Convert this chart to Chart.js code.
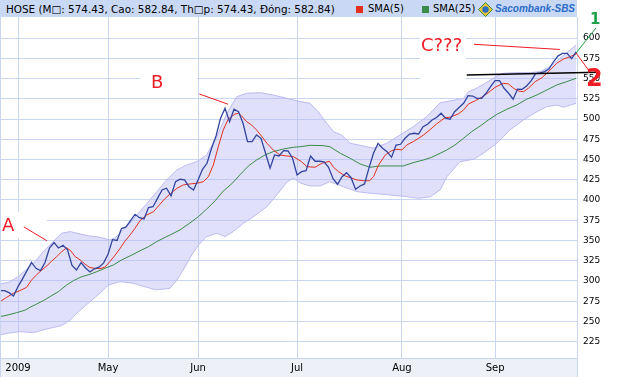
<!DOCTYPE html>
<html><head><meta charset="utf-8">
<script src="https://cdn.jsdelivr.net/npm/chart.js@4/dist/chart.umd.min.js"></script>
<style>
html,body{margin:0;padding:0;background:#fff;}
#wrap{position:relative;width:617px;height:377px;overflow:hidden;font-family:'DejaVu Sans',sans-serif;}
#c{position:absolute;left:0;top:0;}
#hdr{position:absolute;left:0;top:0;width:577px;height:17px;background:#c9d9f5;font-size:10px;color:#000;white-space:nowrap;}
#hdr span{position:absolute;top:3px;line-height:12px;}
.sq{position:absolute;top:6px;width:7px;height:7px;}
.ann{position:absolute;color:#ee1c25;font-size:18px;line-height:18px;white-space:nowrap;}
</style></head>
<body><div id="wrap">
<canvas id="c" width="617" height="377"></canvas>
<div id="hdr">
  <span style="left:6px;font-size:10.4px">HOSE (M&#9633;: 574.43, Cao: 582.84, Th&#9633;p: 574.43, Đóng: 582.84)</span>
  <div class="sq" style="left:356px;background:#e2301c"></div>
  <span style="left:368px">SMA(5)</span>
  <div class="sq" style="left:422px;background:#3a8a48"></div>
  <span style="left:433px">SMA(25)</span>
  <svg style="position:absolute;left:478px;top:2px" width="15" height="15"><polygon points="7.5,0.5 14.5,7.5 7.5,14.5 0.5,7.5" fill="#e6c53a" stroke="#3f8a3f"/><circle cx="7.5" cy="7.5" r="3.2" fill="#2f6fc0"/></svg>
  <span style="left:495px;font-family:'Liberation Sans',sans-serif;font-weight:bold;font-style:italic;color:#2a6cc7">Sacombank-SBS</span>
</div>
<div class="ann" style="left:2px;top:216px">A</div>
<div class="ann" style="left:151px;top:73px">B</div>
<div class="ann" style="left:421px;top:36px">C???</div>
<div class="ann" style="left:590px;top:12px;color:#1ea34a;font-weight:bold;font-size:15px;line-height:15px">1</div>
<div class="ann" style="left:586px;top:66px;font-weight:bold;font-size:24px;line-height:24px">2</div>
</div>
<script>
// ---- data (trading-day index, 0 = first trading day of April 2009) ----
const FIRST_DAY = -4;
const closeVals = [
 288,288,285.5,281.4,293,302.5,312.7,322.8,315.6,312.7,
 322.8,340.7,347.5,340.7,344.1,338.3,319.1,313.5,322.6,316,
 311,315,317,322,333,351,350,364.6,366.7,374.5,
 382.3,378.1,376.5,390.7,391.7,402,412.4,414.5,405,422.6,
 425.6,424.7,416.4,412.4,424.7,437.9,445.3,463.9,479,500.9,
 513.2,496.7,512,509,494.7,472,472,480.3,476.2,457.7,
 439.2,455.6,454.3,460.9,460.5,451.5,430.9,435,436.2,454.3,
 447.8,447.8,447,440.4,426.3,419.4,428.8,433.7,427.5,413.2,
 417.3,419.8,440,458,470,463.9,459.7,452.7,467.9,468.8,
 476.2,481.5,482.4,481.5,490.5,493.5,498.8,501.9,507.1,500.9,
 499.7,509,514.2,519.4,528.8,528.4,525.6,525.6,531.8,540,
 547.3,547.3,538,531.8,524.4,537,536.7,540.8,547,556,
 557,558.5,562,571,578,581,581,574.43,582.84];

const sma5Days = [-4,-2.5,-1,0.4,1.9,3,4.2,5.3,6.4,7.5,8.6,9.7,10.8,11.7,12.7,13.8,14.9,16,17.1,18.2,19.3,20.4,21.6,22.7,23.8,24.9,26,27.1,28.6,30.1,31.2,32.7,33.8,35.3,36.7,38.2,39.7,41.2,42.3,43.4,44.5,45.6,46.7,48.2,49,49.7,50.8,51.9,53,54.2,55.3,56.7,58.2,59.7,61.2,63,64.2,66,67.5,69.2,70.1,71.2,72.7,74.2,75.3,76.7,78.1,79,80.1,81.6,83,84.2,85.3,86.4,87.8,89,90.1,91.6,93,94.9,96,97.8,99,100.1,101.6,103,104.5,106,107.8,109,110.1,111.2,112.3,113.4,114.9,116.4,117.5,118.6,119.7,121.2,122.7,124];
const sma5Vals = [274.4,279.8,284.8,288,292,301,308,313.5,318.5,324.7,330,336,341,337.4,330,326,320.6,316.4,315.6,315.2,317,323.8,332,340.3,349.4,356.8,365,374.4,381.5,385.5,392.6,402,407.4,414.4,418.5,419.8,420.6,422.6,428.8,443.2,465.8,486.5,499.7,506.2,507,503.7,496.7,492.6,486.5,478.2,470,461.8,455.6,454.3,453.5,447.3,441.1,440.4,445.3,447.8,440.4,435,429.6,426.8,424.7,423.8,423.8,428.8,443.2,455.6,460.9,462.6,461.8,468,472,476.2,480.3,487,493.9,501.7,502.2,506.2,511.2,518.6,522.6,526.8,532.5,539.2,544.1,543.3,538,534.6,533.7,538,546.1,551,556.5,562.6,568.8,574.1,577,580.3];

const sma25Days = [-4,-2.2,-0.3,1.6,2.7,4.2,5.6,7.1,9,10.8,12.3,14.2,16,17.5,19.3,21.2,23,25.3,27.1,29,30.8,32.7,33.8,36,38.2,40.1,41.9,43.8,45.6,47.5,49.3,51.2,53,54.9,56.7,59,61.2,62.7,64.9,67.8,69.3,71.6,73.8,76,78.2,80.4,82.7,85.6,87.8,90.1,91.9,93.8,95.3,97.1,99,100.8,102.7,104.5,106.4,108.6,110.8,113,115.3,117.5,119.7,121.9,124];
const sma25Vals = [255.9,258,260.8,264,267.5,271.6,275.6,280.6,286.8,295,300.3,305.3,308.2,311.4,315.6,319.7,325.9,332,337.2,342.3,348.5,353.9,356.8,363,371.6,379.5,388.6,399,411,420,431,442,449.4,455.6,459.7,463,465.1,465.8,467.5,467.1,465.8,457.7,451.5,444.5,440.4,442,442,442,446.1,449.4,452.7,457.7,461.8,467.9,476.2,484.4,491.4,498.8,505.8,512,517.3,524.4,529.7,535.9,542,546.1,550.3];

const upperDays = [-4,-2.2,0.1,1.9,3.8,5.6,7.8,9.7,11.6,13.8,16,18.2,20.4,21.6,24.2,26.4,29.3,33,35.3,37.5,39.7,41.9,44.2,46.4,48.6,50.8,53.8,56.7,59.7,62.7,64.9,66.7,68.6,70.1,71.9,73.8,76.7,79,81.9,84.9,87.8,90.8,93.8,96,99,100.1,101.9,103.8,105.6,107.8,110.8,113.8,116,118.2,120.4,122.7,124];
const upperVals = [296.3,297.9,305.3,314.4,323.8,336.1,348.5,358.9,360.9,358,355.5,353.9,350.6,353.5,367,381.5,400,424.7,437,443.2,447.3,455.6,478.2,507,527.6,531.8,532.5,529.7,525.6,521.5,519.4,509,494.7,484.4,480.3,470,466.7,463.9,470,480.3,490.5,502.9,520,522.3,525.6,533.7,538,544.1,550.3,556.5,557.3,557.3,558.5,564.7,575,585.3,591.4];

const lowerDays = [-4,-2.2,0.4,3.4,6.4,9.7,11.6,13.4,15.6,18.2,20.1,22.7,25.6,28.6,30.8,33.8,35.3,36.7,38.6,40.1,41.9,44.2,46,47.8,50.1,52.3,55.3,57.5,59.7,61.2,62.7,64.9,67.1,69.3,72.3,75.3,78.2,82.7,86.4,89,91.6,93.8,95.3,98.2,101.2,103.4,106.4,109.3,112.3,115.3,117.5,119.7,121.2,124];
const lowerVals = [233.3,235.4,237.4,236.1,240.7,244.8,251.8,262,272.4,284.8,295,299.1,297.1,292.1,289,290.9,301.2,313.5,332,344.4,354.7,358.9,354.7,360.9,371.2,379.4,391.7,406.2,422,427,421,417.3,417.3,422.6,416.4,410.3,408.3,406.2,404.1,402.1,404,412.4,428.8,447.3,450.3,457.7,470,486.5,498.8,509,515.2,517.3,514.5,519.4];

const monthDays = [0,20,40,62,85.3,106];
const monthLabels = ['2009','May','Jun','Jul','Aug','Sep'];
const yTicks = [225,250,275,300,325,350,375,400,425,450,475,500,525,550,575,600];

// hand-drawn annotations (data units: day, value)
const annotLines = [
  {from:[1.3,366.7], to:[6.4,349.7], color:'#ee1c25', w:1},
  {from:[40.3,530.9], to:[46.7,518.2], color:'#ee1c25', w:1},
  {from:[101.3,592.3], to:[120.4,585.9], color:'#ee1c25', w:1},
  {from:[99.7,554.4], to:[128.9,557.7], color:'#000000', w:1.4},
  {from:[124,581.5], to:[128.4,612.4], color:'#1ea34a', w:1},
  {from:[124,581.5], to:[126.9,559.3], color:'#ee1c25', w:1}
];
const labelBoxes = [[0,212,47,26],[140,66,57,26],[420,28,46,54]];

const pts = (xs, ys) => ys.map((v,k)=>({x:xs[k], y:v}));
const closePts = closeVals.map((v,k)=>({x:k+FIRST_DAY, y:v}));

const GRID = '#c9d6f2';
const bgPlugin = {
  id:'bg',
  beforeDraw(chart){
    const c = chart.ctx, a = chart.chartArea;
    c.save();
    c.fillStyle='#fff'; c.fillRect(0,0,chart.width,chart.height);
    c.fillStyle='#eef0f8'; c.fillRect(a.left, a.bottom, a.right-a.left, chart.height-a.bottom);
    c.restore();
  },
  beforeDatasetsDraw(chart){
    const c = chart.ctx;
    c.save(); c.fillStyle='#fff';
    labelBoxes.forEach(b=>c.fillRect(b[0],b[1],b[2],b[3]));
    c.restore();
  },
  afterDraw(chart){
    const c = chart.ctx, a = chart.chartArea, xs = chart.scales.x, ys = chart.scales.y;
    c.save();
    c.strokeStyle = GRID; c.lineWidth = 1;
    c.beginPath(); c.moveTo(a.right+0.5, a.top); c.lineTo(a.right+0.5, chart.height); c.stroke();
    c.beginPath(); c.moveTo(0.5, a.top); c.lineTo(0.5, chart.height); c.stroke();
    annotLines.forEach(l=>{
      c.strokeStyle = l.color; c.lineWidth = l.w;
      c.beginPath();
      c.moveTo(xs.getPixelForValue(l.from[0]), ys.getPixelForValue(l.from[1]));
      c.lineTo(xs.getPixelForValue(l.to[0]), ys.getPixelForValue(l.to[1]));
      c.stroke();
    });
    c.restore();
  }
};

Chart.defaults.font.family = "'DejaVu Sans', sans-serif";
new Chart(document.getElementById('c'), {
  type:'line',
  data:{ datasets:[
    {label:'Upper', data:pts(upperDays, upperVals), borderColor:'#bcbcf0', borderWidth:1, pointRadius:0, fill:false, order:10},
    {label:'Lower', data:pts(lowerDays, lowerVals), borderColor:'#bcbcf0', borderWidth:1, pointRadius:0, fill:'-1', backgroundColor:'rgba(180,180,246,0.42)', order:9},
    {label:'SMA(25)', data:pts(sma25Days, sma25Vals), borderColor:'#3a8a48', borderWidth:1, pointRadius:0, order:3},
    {label:'SMA(5)', data:pts(sma5Days, sma5Vals), borderColor:'#e2301c', borderWidth:1, pointRadius:0, order:2},
    {label:'HOSE', data:closePts, borderColor:'#33449e', borderWidth:1.3, pointRadius:0, order:1}
  ]},
  options:{
    responsive:false, animation:false, events:[],
    layout:{padding:{top:17,left:0,right:0,bottom:0}},
    plugins:{legend:{display:false}, tooltip:{enabled:false}},
    scales:{
      x:{ type:'linear', min:-4, max:124.2,
        afterBuildTicks(s){ s.ticks = monthDays.map(v=>({value:v})); },
        afterFit(s){ s.height = 19; },
        grid:{color:GRID, drawTicks:false},
        border:{color:GRID},
        ticks:{ padding:4, color:'#000', font:{size:10}, maxRotation:0, autoSkip:false,
          callback:(v,i)=>monthLabels[i] }
      },
      y:{ position:'right', min:204.8, max:626,
        afterBuildTicks(s){ s.ticks = yTicks.map(v=>({value:v})); },
        afterFit(s){ s.width = 40; },
        grid:{color:GRID, drawTicks:false},
        border:{color:GRID},
        ticks:{ padding:6, color:'#000', font:{size:9}, callback:v=>String(v) }
      }
    }
  },
  plugins:[bgPlugin]
});
</script>
</body></html>
